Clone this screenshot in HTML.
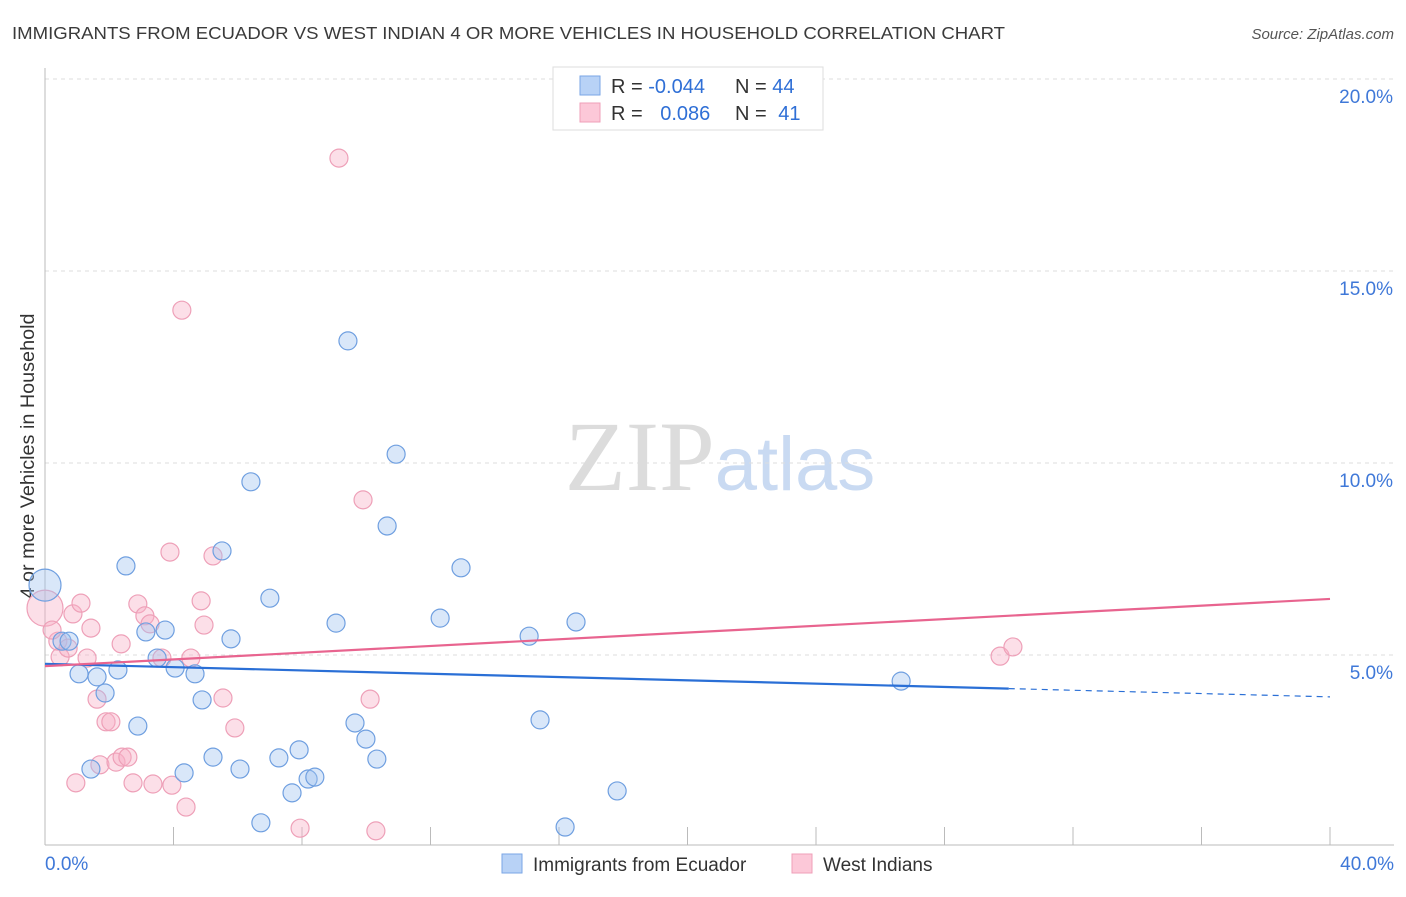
<!DOCTYPE html>
<html><head><meta charset="utf-8"><style>
body{margin:0;background:#fff;font-family:"Liberation Sans",sans-serif;}
svg text{font-family:"Liberation Sans",sans-serif;}
</style></head><body>
<svg id="chart" width="1406" height="892" xmlns="http://www.w3.org/2000/svg">
<text x="12" y="39" font-size="17.5" fill="#3a3a3a" textLength="993" lengthAdjust="spacingAndGlyphs">IMMIGRANTS FROM ECUADOR VS WEST INDIAN 4 OR MORE VEHICLES IN HOUSEHOLD CORRELATION CHART</text>
<text x="1394" y="39" font-size="15" fill="#555" text-anchor="end" font-style="italic">Source: ZipAtlas.com</text>
<text x="720" y="490" font-size="100" text-anchor="middle"><tspan fill="#dcdcdc" font-family="Liberation Serif">ZIP</tspan><tspan fill="#c9daf2" font-size="76">atlas</tspan></text>
<text transform="translate(34,456) rotate(-90)" font-size="19" fill="#333" text-anchor="middle" textLength="285" lengthAdjust="spacingAndGlyphs">4 or more Vehicles in Household</text>
<g id="grid"></g><g id="axes"></g><g id="pts"></g><g id="lines"></g>
<g>
<rect x="553" y="67" width="270" height="63" fill="#fff" stroke="#ddd"/>
<rect x="580" y="76" width="20" height="19" fill="#b8d2f6" stroke="#7aa6e6"/>
<rect x="580" y="103" width="20" height="19" fill="#fcc8d8" stroke="#ef9fb8"/>
<text x="611" y="93" font-size="20" fill="#333">R = <tspan fill="#2f6fd6">-0.044</tspan></text>
<text x="735" y="93" font-size="20" fill="#333">N = <tspan fill="#2f6fd6">44</tspan></text>
<text x="611" y="120" font-size="20" fill="#333">R = <tspan fill="#2f6fd6" dx="12">0.086</tspan></text>
<text x="735" y="120" font-size="20" fill="#333">N = <tspan fill="#2f6fd6" dx="6">41</tspan></text>
</g>
<g>
<rect x="502" y="854" width="20" height="19" fill="#b8d2f6" stroke="#7aa6e6"/>
<text x="533" y="871" font-size="19" fill="#333">Immigrants from Ecuador</text>
<rect x="792" y="854" width="20" height="19" fill="#fcc8d8" stroke="#ef9fb8"/>
<text x="823" y="871" font-size="19" fill="#333">West Indians</text>
</g>
</svg>
<script>
const blueX=[0.0,0.53,0.75,1.06,1.62,1.87,2.27,2.52,2.89,3.14,3.49,3.74,4.05,4.33,4.67,4.89,5.23,5.51,5.79,6.07,6.41,6.72,7.00,7.28,7.69,7.91,8.19,8.40,9.06,9.43,9.65,9.99,10.33,10.65,10.93,12.30,12.95,15.07,15.41,16.19,16.53,17.81,26.65,1.43];
const blueY=[6.82,5.36,5.36,4.51,4.43,4.01,4.61,7.32,3.15,5.60,4.92,5.65,4.66,1.93,4.51,3.83,2.34,7.71,5.42,2.03,9.51,0.63,6.48,2.32,1.41,2.53,1.77,1.82,5.83,13.18,3.23,2.81,2.29,8.36,10.23,5.96,7.27,5.49,3.31,0.52,5.86,1.46,4.32,2.03];
const pinkX=[0,0.40,0.47,0.72,0.87,1.12,1.43,1.31,1.62,1.90,2.05,1.71,0.96,2.21,2.40,2.58,2.37,2.74,2.89,3.11,3.27,3.36,3.64,3.89,3.95,4.26,4.39,4.54,4.86,4.95,5.23,5.54,5.91,7.94,9.15,9.90,10.12,10.30,29.73,30.13,0.22];
const pinkY=[6.22,5.36,4.95,5.18,6.07,6.35,5.70,4.92,3.85,3.26,3.26,2.14,1.67,2.21,2.34,2.34,5.29,1.67,6.33,6.02,5.81,1.64,4.92,7.68,1.61,13.98,1.04,4.92,6.41,5.78,7.58,3.88,3.10,0.49,17.94,9.04,3.85,0.42,4.97,5.21,5.65];
const blueTrend=[4.77,3.91]; const blueSolidEnd=30.0;
const pinkTrend=[4.71,6.46];
const yTicks=[5,10,15,20]; const yTickLabels=["5.0%","10.0%","15.0%","20.0%"];
const xTicks=[0,4,8,12,16,20,24,28,32,36,40];
const NS="http://www.w3.org/2000/svg";
const X=v=>45+v*32.125, Y=v=>847-v*38.4;
function mk(tag,attrs,parent){const e=document.createElementNS(NS,tag);for(const k in attrs)e.setAttribute(k,attrs[k]);document.getElementById(parent).appendChild(e);return e;}
yTicks.forEach((t,i)=>{
 const g=mk('line',{x1:45,x2:1394,y1:Y(t),y2:Y(t),stroke:'#ddd','stroke-dasharray':'4,4'},'grid');
 
 
 const tx=mk('text',{x:1393,y:Y(t)+24,'font-size':19,fill:'#3f78d8','text-anchor':'end'},'axes');tx.textContent=yTickLabels[i];
 
 
});
const ax=mk('line',{x1:45,x2:1394,y1:845,y2:845,stroke:'#bbb'},'axes');


const ay=mk('line',{x1:45,x2:45,y1:68,y2:845,stroke:'#bbb'},'axes');


xTicks.forEach(t=>{const l=mk('line',{x1:X(t),x2:X(t),y1:827,y2:845,stroke:'#bbb'},'axes');
 
 });
[[0,"0.0%",'start',45],[40,"40.0%",'end',1394]].forEach(a=>{const t=mk('text',{x:a[3],y:870,'font-size':19,fill:'#3f78d8','text-anchor':a[2]},'axes');t.textContent=a[1];
 
 });
pinkX.forEach((x,i)=>{const c=mk('circle',{cx:X(x),cy:Y(pinkY[i]),r:i==0?18:9,fill:'rgba(248,175,198,0.4)',stroke:'#eea0b8','stroke-width':1.2},'pts');
 
 });
blueX.forEach((x,i)=>{const c=mk('circle',{cx:X(x),cy:Y(blueY[i]),r:i==0?16:9,fill:'rgba(160,195,240,0.4)',stroke:'#6f9fe0','stroke-width':1.2},'pts');
 
 });
const by=x=>blueTrend[0]+(blueTrend[1]-blueTrend[0])*x/40;
const b1=mk('line',{x1:X(0),y1:Y(by(0)),x2:X(blueSolidEnd),y2:Y(by(blueSolidEnd)),stroke:'#2a6fd6','stroke-width':2.2},'lines');


const b2=mk('line',{x1:X(blueSolidEnd),y1:Y(by(blueSolidEnd)),x2:X(40),y2:Y(by(40)),stroke:'#2a6fd6','stroke-width':1.2,'stroke-dasharray':'6,5'},'lines');


const p1=mk('line',{x1:X(0),y1:Y(pinkTrend[0]),x2:X(40),y2:Y(pinkTrend[1]),stroke:'#e8648f','stroke-width':2.2},'lines');


</script>
</body></html>
